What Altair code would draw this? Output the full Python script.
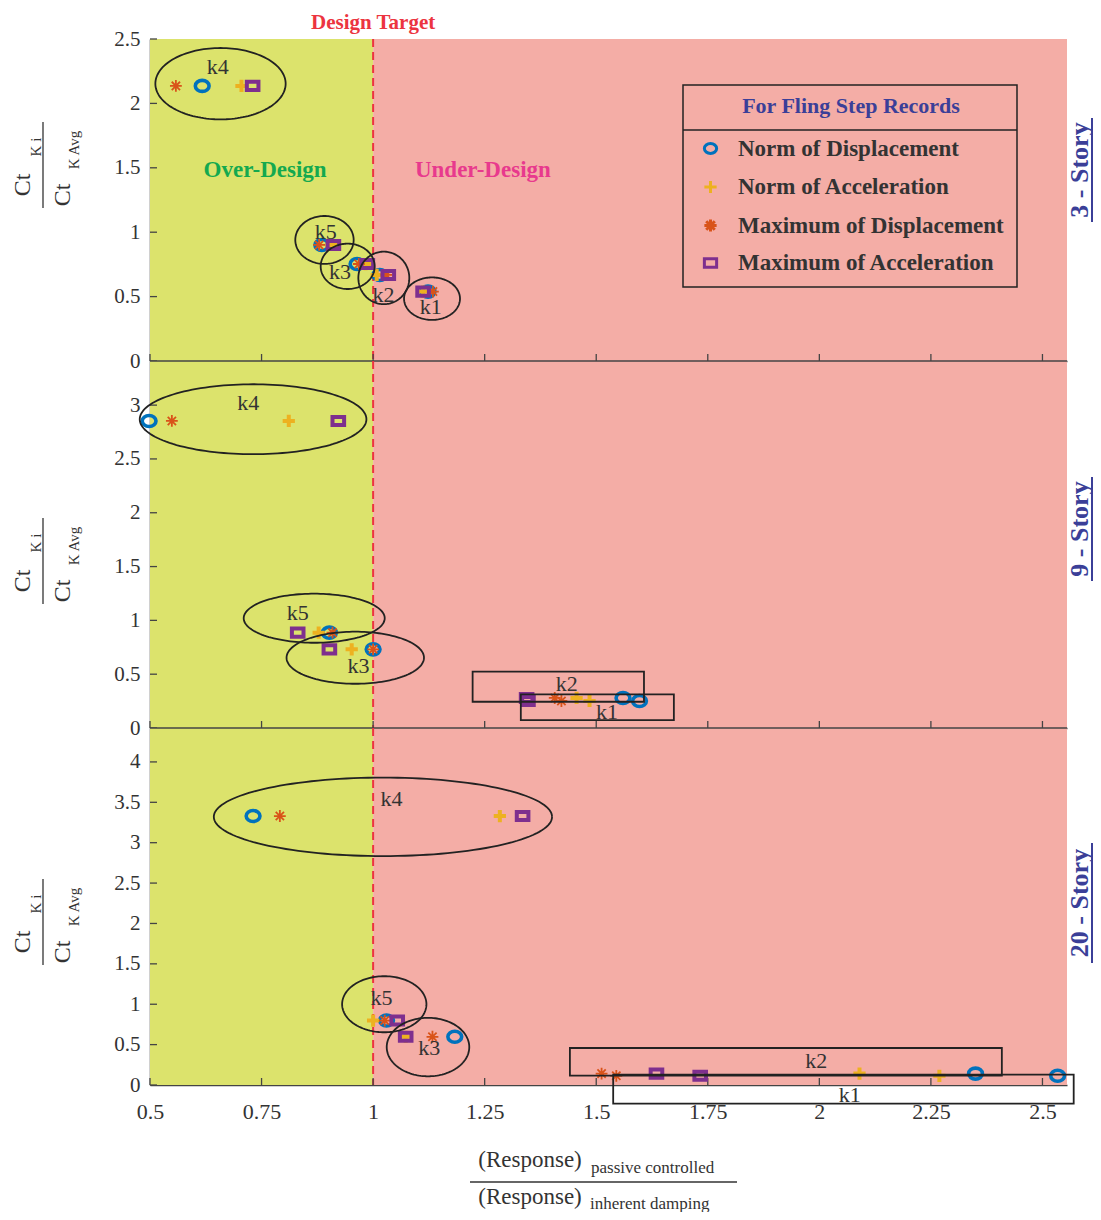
import numpy as np
import pandas as pd
import altair as alt

SERIF = "Liberation Serif"
GREEN = "#DCE36C"
PINK = "#F4ADA6"
RED = "#EC3440"
INK = "#333333"
AXIS_INK = "#444444"
TITLE_BLUE = "#3B3F98"

# ---------------- data ----------------
SERIES = ["Norm of Displacement", "Norm of Acceleration",
          "Maximum of Displacement", "Maximum of Acceleration"]
SERIES_COLORS = ["#0072BD", "#EDB120", "#D95319", "#7E2F8E"]
GROUPS = ["k1", "k2", "k3", "k4", "k5"]
DESIGN_TARGET = 1.0

X_DOMAIN = [0.5, 2.555]
X_TICKS = [0.5, 0.75, 1, 1.25, 1.5, 1.75, 2, 2.25, 2.5]

STORIES = ["3 - Story", "9 - Story", "20 - Story"]
Y_DOMAINS = [[0, 2.5], [0, 3.41], [0, 4.42]]
Y_TICKS = [[0, 0.5, 1, 1.5, 2, 2.5],
           [0, 0.5, 1, 1.5, 2, 2.5, 3],
           [0, 0.5, 1, 1.5, 2, 2.5, 3, 3.5, 4]]

# 3-Story (order k1..k5)
P1_Y = [0.539, 0.668, 0.753, 2.136, 0.901]
P1_NORM_DISP = [1.123, 1.015, 0.964, 0.617, 0.885]
P1_NORM_ACC = [1.112, 1.008, 0.983, 0.705, 0.907]
P1_MAX_DISP = [1.134, 1.030, 0.968, 0.558, 0.879]
P1_MAX_ACC = [1.112, 1.034, 0.987, 0.730, 0.911]

# 9-Story
P2_Y = [0.251, 0.279, 0.731, 2.853, 0.886]
P2_NORM_DISP = [1.597, 1.560, 1.000, 0.498, 0.902]
P2_NORM_ACC = [1.485, 1.456, 0.952, 0.811, 0.878]
P2_MAX_DISP = [1.422, 1.407, 1.000, 0.549, 0.909]
P2_MAX_ACC = [1.347, 1.344, 0.902, 0.922, 0.831]

# 20-Story
P3_Y = [0.114, 0.141, 0.597, 3.330, 0.798]
P3_NORM_DISP = [2.534, 2.350, 1.183, 0.731, 1.030]
P3_NORM_ACC = [2.269, 2.090, 1.073, 1.284, 1.000]
P3_MAX_DISP = [1.545, 1.512, 1.133, 0.791, 1.026]
P3_MAX_ACC = [1.733, 1.635, 1.073, 1.335, 1.054]

# group outlines: ellipses (label, cx, cy, rx, ry)
P1_ELLIPSES = [("k4", 0.658, 2.153, 0.146, 0.277), ("k5", 0.891, 0.940, 0.0654, 0.186),
               ("k3", 0.943, 0.735, 0.0605, 0.176), ("k2", 1.024, 0.645, 0.0571, 0.204),
               ("k1", 1.132, 0.484, 0.0627, 0.165)]
P2_ELLIPSES = [("k4", 0.731, 2.869, 0.254, 0.325), ("k5", 0.868, 1.020, 0.158, 0.228),
               ("k3", 0.960, 0.653, 0.154, 0.242)]
P3_ELLIPSES = [("k4", 1.022, 3.320, 0.379, 0.486), ("k5", 1.025, 1.000, 0.0945, 0.347),
               ("k3", 1.123, 0.470, 0.0925, 0.362)]
# group outlines: boxes (label, x0, x1, y0, y1)
P1_BOXES = []
P2_BOXES = [("k2", 1.223, 1.607, 0.244, 0.523), ("k1", 1.331, 1.674, 0.074, 0.313)]
P3_BOXES = [("k2", 1.441, 2.409, 0.116, 0.458), ("k1", 1.538, 2.570, -0.230, 0.129)]
# group labels (label, x, y)
P1_LABELS = [("k4", 0.652, 2.283), ("k5", 0.894, 1.004), ("k3", 0.926, 0.694),
             ("k2", 1.023, 0.513), ("k1", 1.129, 0.422)]
P2_LABELS = [("k4", 0.720, 3.023), ("k5", 0.831, 1.072), ("k3", 0.967, 0.576),
             ("k2", 1.434, 0.409), ("k1", 1.524, 0.149)]
P3_LABELS = [("k4", 1.041, 3.537), ("k5", 1.019, 1.078), ("k3", 1.126, 0.458),
             ("k2", 1.993, 0.294), ("k1", 2.068, -0.119)]

ZONE_TEXT = [("Over-Design", 0.758, 1.484, "#14A94F"), ("Under-Design", 1.246, 1.484, "#E8398D")]

PANELS = [
    dict(y=P1_Y, vals=[P1_NORM_DISP, P1_NORM_ACC, P1_MAX_DISP, P1_MAX_ACC],
         ell=P1_ELLIPSES, box=P1_BOXES, lab=P1_LABELS),
    dict(y=P2_Y, vals=[P2_NORM_DISP, P2_NORM_ACC, P2_MAX_DISP, P2_MAX_ACC],
         ell=P2_ELLIPSES, box=P2_BOXES, lab=P2_LABELS),
    dict(y=P3_Y, vals=[P3_NORM_DISP, P3_NORM_ACC, P3_MAX_DISP, P3_MAX_ACC],
         ell=P3_ELLIPSES, box=P3_BOXES, lab=P3_LABELS),
]

# ---------------- styles / layout ----------------
W = 917
PANEL_H = [322, 367, 357]
SHAPES = [
    "M -1 0 A 1 0.8 0 1 1 1 0 A 1 0.8 0 1 1 -1 0 Z",
    "M -1 0 L 1 0 M 0 -1 L 0 1",
    "M -1 0 L 1 0 M 0 -1 L 0 1 M -0.7 -0.7 L 0.7 0.7 M -0.7 0.7 L 0.7 -0.7",
    "M -1 -0.7 L 1 -0.7 L 1 0.7 L -1 0.7 Z",
]
MARK_SIZE = [190, 150, 140, 135]
MARK_STROKE = [3.6, 4.0, 1.8, 4.0]
YT_CENTER = [126, 200, 194]
STORY_Y = [131, 168, 175]
STORY_HALF = [52, 52, 60]
LEGEND_BOX = (533, 46, 867, 248, 91)  # x0, y0, x1, y1, separator y (panel-1 pixels)

ONE = pd.DataFrame({"a": [0]})


def txt(s, px, py, size, weight="normal", color=INK, angle=0, align="center", baseline="middle"):
    kw = dict(text=s, font=SERIF, fontSize=size, fontWeight=weight, color=color,
              align=align, baseline=baseline)
    if angle:
        kw["angle"] = angle
    return alt.Chart(ONE).mark_text(**kw).encode(x=alt.value(px), y=alt.value(py))


def rule_px(x, y, x2=None, y2=None, color=INK, width=1.3):
    enc = dict(x=alt.value(x), y=alt.value(y))
    if x2 is not None:
        enc["x2"] = alt.value(x2)
    if y2 is not None:
        enc["y2"] = alt.value(y2)
    return alt.Chart(ONE).mark_rule(color=color, strokeWidth=width).encode(**enc)


def panel(k):
    h = PANEL_H[k]
    P = PANELS[k]
    last = k == 2
    xs = alt.Scale(domain=X_DOMAIN, nice=False, zero=False)
    ys = alt.Scale(domain=Y_DOMAINS[k], nice=False, zero=False)
    xaxis = alt.Axis(values=X_TICKS, format=".3~g", labels=last, ticks=False, tickSize=0,
                     grid=False, domainColor=AXIS_INK, domainWidth=1.5, labelFont=SERIF,
                     labelFontSize=22, labelColor=INK, labelPadding=16 if last else 0,
                     labelFlush=False, labelOverlap=False, title=None)
    yaxis = alt.Axis(values=Y_TICKS[k], format=".3~g", ticks=False, tickSize=0, grid=False,
                     domainColor=AXIS_INK, domainWidth=1.5, labelFont=SERIF, labelFontSize=21,
                     labelColor=INK, labelPadding=10, labelFlush=False, labelOverlap=False,
                     title=None)

    def X(f):
        return alt.X(f, type="quantitative", scale=xs, axis=xaxis)

    def Y(f):
        return alt.Y(f, type="quantitative", scale=ys, axis=yaxis)

    layers = []
    layers.append(alt.Chart(pd.DataFrame({"x0": [X_DOMAIN[0]], "x1": [DESIGN_TARGET]}))
                  .mark_rect(color=GREEN).encode(x=X("x0"), x2="x1", y=alt.value(0), y2=alt.value(h)))
    layers.append(alt.Chart(pd.DataFrame({"x0": [DESIGN_TARGET], "x1": [X_DOMAIN[1]]}))
                  .mark_rect(color=PINK).encode(x=X("x0"), x2="x1", y=alt.value(0), y2=alt.value(h)))
    if k > 0:
        # bottom axis line of the panel above (would be hidden under this panel's background)
        layers.append(rule_px(0, 0, x2=W, color=AXIS_INK, width=1.5))
    layers.append(alt.Chart(pd.DataFrame({"x": [DESIGN_TARGET]}))
                  .mark_rule(color=RED, strokeWidth=2, strokeDash=[8, 5]).encode(x=X("x")))
    layers.append(alt.Chart(pd.DataFrame({"t": Y_TICKS[k]}))
                  .mark_rule(color=AXIS_INK, strokeWidth=1.3)
                  .encode(y=Y("t"), x=alt.value(0), x2=alt.value(7)))
    layers.append(alt.Chart(pd.DataFrame({"t": X_TICKS}))
                  .mark_rule(color=AXIS_INK, strokeWidth=1.3)
                  .encode(x=X("t"), y=alt.value(h), y2=alt.value(h - 7)))

    # markers
    rows = []
    for si, s in enumerate(SERIES):
        for gi, g in enumerate(GROUPS):
            rows.append(dict(series=s, group=g, x=P["vals"][si][gi], y=P["y"][gi],
                             sz=MARK_SIZE[si], sw=MARK_STROKE[si], o=si))
    pts = pd.DataFrame(rows)
    if k == 0:
        bx0, by0, bx1, by1, bsep = LEGEND_BOX
        leg = alt.Legend(title="For Fling Step Records", orient="none", legendX=537, legendY=by0 - 1,
                         titleFont=SERIF, titleFontSize=22, titleFontWeight="bold",
                         titleColor=TITLE_BLUE, titleAnchor="middle", titlePadding=19,
                         labelFont=SERIF, labelFontSize=23, labelFontWeight="bold",
                         labelColor=INK, labelLimit=400, titleLimit=400,
                         symbolSize=150, symbolStrokeWidth=3,
                         padding=12, rowPadding=13.5, labelOffset=16)
        cenc = alt.Color("series:N", scale=alt.Scale(domain=SERIES, range=SERIES_COLORS), legend=leg)
        senc = alt.Shape("series:N", scale=alt.Scale(domain=SERIES, range=SHAPES), legend=leg)
    else:
        cenc = alt.Color("series:N", scale=alt.Scale(domain=SERIES, range=SERIES_COLORS), legend=None)
        senc = alt.Shape("series:N", scale=alt.Scale(domain=SERIES, range=SHAPES), legend=None)
    layers.append(alt.Chart(pts).mark_point(filled=False, opacity=1).encode(
        x=X("x"), y=Y("y"), color=cenc, shape=senc,
        size=alt.Size("sz:Q", scale=None), strokeWidth=alt.StrokeWidth("sw:Q", scale=None),
        order=alt.Order("o:Q")))

    # ellipses around groups
    if P["ell"]:
        th = np.linspace(0, 2 * np.pi, 145)
        erows = []
        for (g, cx, cy, rx, ry) in P["ell"]:
            for i, t in enumerate(th):
                erows.append(dict(g=g, i=i, x=cx + rx * np.cos(t), y=cy + ry * np.sin(t)))
        layers.append(alt.Chart(pd.DataFrame(erows)).mark_line(color="#222222", strokeWidth=1.8)
                      .encode(x=X("x"), y=Y("y"), detail="g:N", order="i:Q"))
    if P["box"]:
        bdf = pd.DataFrame(P["box"], columns=["g", "x0", "x1", "y0", "y1"])
        layers.append(alt.Chart(bdf).mark_rect(fillOpacity=0, stroke="#222222", strokeWidth=1.8)
                      .encode(x=X("x0"), x2="x1", y=Y("y0"), y2="y1"))
    ldf = pd.DataFrame(P["lab"], columns=["g", "x", "y"])
    layers.append(alt.Chart(ldf).mark_text(font=SERIF, fontSize=22, color=INK)
                  .encode(x=X("x"), y=Y("y"), text="g:N"))

    if k == 0:
        for (s, zx, zy, c) in ZONE_TEXT:
            layers.append(alt.Chart(pd.DataFrame({"x": [zx], "y": [zy]}))
                          .mark_text(text=s, font=SERIF, fontSize=23, fontWeight="bold", color=c)
                          .encode(x=X("x"), y=Y("y")))
        layers.append(alt.Chart(pd.DataFrame({"x": [DESIGN_TARGET]}))
                      .mark_text(text="Design Target", font=SERIF, fontSize=21, fontWeight="bold",
                                 color=RED)
                      .encode(x=X("x"), y=alt.value(-16)))
        bx0, by0, bx1, by1, bsep = LEGEND_BOX
        layers.append(alt.Chart(ONE).mark_rect(fillOpacity=0, stroke="#222222", strokeWidth=1.5)
                      .encode(x=alt.value(bx0), x2=alt.value(bx1), y=alt.value(by0), y2=alt.value(by1)))
        layers.append(rule_px(bx0, bsep, x2=bx1, color="#222222", width=1.5))

    # y-axis title (fraction)
    cy = YT_CENTER[k]
    layers += [
        txt("Ct", -127.5, cy + 20, 24, angle=270),
        txt("K i", -114, cy - 18, 15, angle=270),
        rule_px(-107, cy - 43, y2=cy + 43),
        txt("Ct", -87.5, cy + 30, 24, angle=270),
        txt("K Avg", -76, cy - 15, 15, angle=270),
    ]
    # story label at right
    layers += [
        txt(STORIES[k], W + 13, STORY_Y[k], 26, weight="bold", color=TITLE_BLUE, angle=270),
        rule_px(W + 25, STORY_Y[k] - STORY_HALF[k], y2=STORY_Y[k] + STORY_HALF[k],
                color=TITLE_BLUE, width=2),
    ]
    if last:
        layers += [
            txt("(Response)", 380, 432, 23),
            txt("passive controlled", 441, 440, 17, align="left"),
            rule_px(320, 454, x2=587),
            txt("(Response)", 380, 469, 23),
            txt("inherent damping", 440, 476, 17, align="left"),
        ]
    return alt.layer(*layers).properties(width=W, height=h)


chart = alt.vconcat(panel(0), panel(1), panel(2), spacing=0).resolve_scale(
    x="independent", y="independent", color="independent", shape="independent"
).properties(bounds="flush", padding={"left": 2, "top": 4, "right": 0, "bottom": 0}
             ).configure_view(stroke=None)

chart.save("out.html", embed_options={"renderer": "svg", "actions": False})
